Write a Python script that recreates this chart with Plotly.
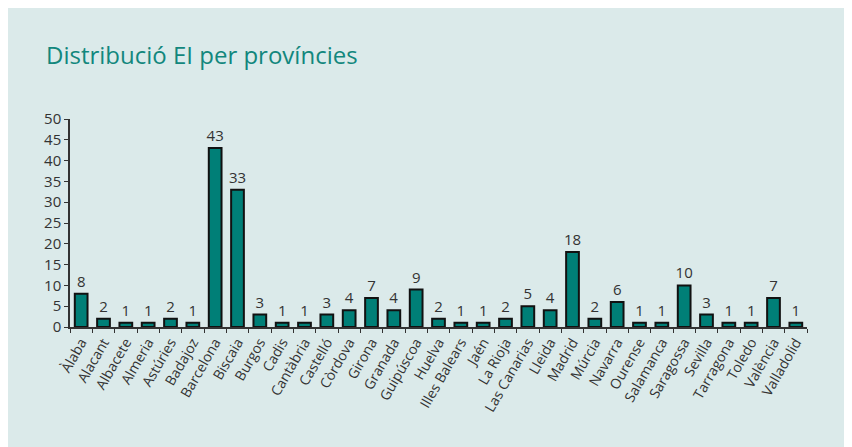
import plotly.graph_objects as go

provinces = ["Àlaba", "Alacant", "Albacete", "Almeria", "Astúries", "Badajoz", "Barcelona",
             "Biscaia", "Burgos", "Cadis", "Cantàbria", "Castelló", "Còrdova", "Girona",
             "Granada", "Guipúscoa", "Huelva", "Illes Balears", "Jaén", "La Rioja",
             "Las Canarias", "Lleida", "Madrid", "Múrcia", "Navarra", "Ourense",
             "Salamanca", "Saragossa", "Sevilla", "Tarragona", "Toledo", "València",
             "Valladolid"]
counts = [8, 2, 1, 1, 2, 1, 43, 33, 3, 1, 1, 3, 4, 7, 4, 9, 2, 1, 1, 2, 5, 4, 18, 2, 6,
          1, 1, 10, 3, 1, 1, 7, 1]
y_ticks = [0, 5, 10, 15, 20, 25, 30, 35, 40, 45, 50]
title_text = "Distribució EI per províncies"

W, H = 852, 447
L, R, T, B = 62, 53, 111, 128
pw, ph = W - L - R, H - T - B
BG = "#dbeaea"
FONT = "Open Sans"

fig = go.Figure(go.Bar(
    x=provinces, y=counts,
    marker=dict(color="#007f77", line=dict(color="#111111", width=2)),
    text=[str(c) for c in counts], textposition="outside", constraintext="none",
    textfont=dict(family=FONT, size=15, color="#333333"),
    cliponaxis=False,
))

fig.update_layout(
    width=W, height=H,
    margin=dict(l=L, r=R, t=T, b=B, pad=0),
    paper_bgcolor=BG, plot_bgcolor=BG,
    bargap=0.43, showlegend=False,
    font=dict(family=FONT, color="#333333"),
    annotations=[dict(text=title_text, xref="paper", yref="paper",
                      x=(36 - L) / pw, y=(H - 28 - B) / ph,
                      xanchor="left", yanchor="top", showarrow=False,
                      font=dict(family=FONT, size=24, color="#12877d"))],
)
fig.update_xaxes(
    type="category", showline=True, linecolor="#333333", linewidth=1.5,
    ticks="outside", tickson="boundaries", ticklen=4, tickcolor="#333333",
    tickangle=-60, tickfont=dict(family=FONT, size=14, color="#333333"),
    showgrid=False, range=[-0.5, len(provinces) - 0.5],
)
fig.update_yaxes(
    range=[0, 50], tickvals=y_ticks, showline=True, linecolor="#333333", linewidth=1.5,
    ticks="outside", ticklen=4, tickcolor="#333333", showgrid=False, zeroline=False,
    tickfont=dict(family=FONT, size=15, color="#333333"),
)

fig.write_html("out.html")
